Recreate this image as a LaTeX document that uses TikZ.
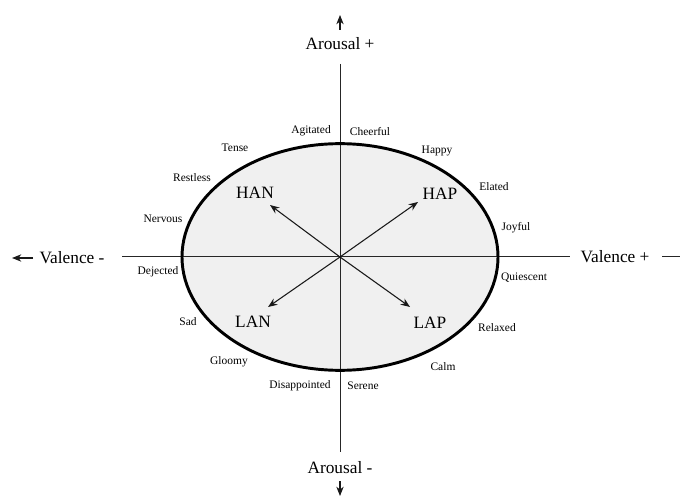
\documentclass[tikz,border=0pt]{standalone}
\usepackage{fontspec}
\setmainfont{Liberation Serif}
\usetikzlibrary{arrows.meta}
\begin{document}
\begin{tikzpicture}[x=0.75pt,y=-0.75pt,
  small/.style={font=\fontsize{8.6}{10}\selectfont, inner sep=0pt},
  big/.style={font=\fontsize{13}{15}\selectfont, inner sep=0pt},
  axis/.style={line width=0.75pt, draw=black!85},
  arr/.style={-{Stealth[length=7pt,width=5.5pt]}, line width=0.8pt, draw=black!90}]
\useasboundingbox (0,0) rectangle (680,498);
\fill[white] (0,0) rectangle (680,498);
% ellipse fill
\coordinate (o) at (340,257);
\fill[black!6] (o) ellipse [x radius=118.5pt, y radius=85pt];
% axes
\coordinate (vtop) at (340,64);
\coordinate (vbot) at (340,452);
\coordinate (hl) at (122,257);
\coordinate (hr) at (570,257);
\draw[axis] (vtop) -- (vbot);
\draw[axis] (hl) -- (hr);
% ellipse border
\draw[line width=2.2pt] (o) ellipse [x radius=118.5pt, y radius=85pt];
% axis labels
\node[big] (arp) at (340,44) {Arousal +};
\node[big] (arm) at (340,468) {Arousal -};
\node[big] (vm) at (72,258) {Valence -};
\node[big] (vp) at (615,257) {Valence +};
% outer arrows
\coordinate (ta1) at (340,30); \coordinate (ta2) at (340,15);
\coordinate (ba1) at (340,481); \coordinate (ba2) at (340,496);
\coordinate (la1) at (33,258); \coordinate (la2) at (12,258);
\coordinate (ra1) at (662,257); \coordinate (ra2) at (680,257);
\draw[arr] (ta1) -- (ta2);
\draw[arr] (ba1) -- (ba2);
\draw[arr] (la1) -- (la2);
\draw[axis] (ra1) -- (ra2);
% quadrant labels
\node[big] (han) at (255,193) {HAN};
\node[big] (hap) at (440,194) {HAP};
\node[big] (lan) at (253,322) {LAN};
\node[big] (lap) at (430,323) {LAP};
\coordinate (thn) at (270,205);
\coordinate (thp) at (418,202);
\coordinate (tln) at (268,307);
\coordinate (tlp) at (410,307);
\draw[arr] (o) -- (thn);
\draw[arr] (o) -- (thp);
\draw[arr] (o) -- (tln);
\draw[arr] (o) -- (tlp);
% emotion words
\node[small] (agitated) at (311,131) {Agitated};
\node[small] (cheerful) at (370,132) {Cheerful};
\node[small] (tense) at (235,148) {Tense};
\node[small] (happy) at (437,151) {Happy};
\node[small] (restless) at (192,178) {Restless};
\node[small] (elated) at (494,187) {Elated};
\node[small] (nervous) at (163,219) {Nervous};
\node[small] (joyful) at (516,228) {Joyful};
\node[small] (dejected) at (158,272) {Dejected};
\node[small] (quiescent) at (524,278) {Quiescent};
\node[small] (sad) at (188,322) {Sad};
\node[small] (relaxed) at (497,328) {Relaxed};
\node[small] (gloomy) at (229,362) {Gloomy};
\node[small] (calm) at (443,367) {Calm};
\node[small] (disappointed) at (300,386) {Disappointed};
\node[small] (serene) at (363,386) {Serene};
\end{tikzpicture}
\end{document}
